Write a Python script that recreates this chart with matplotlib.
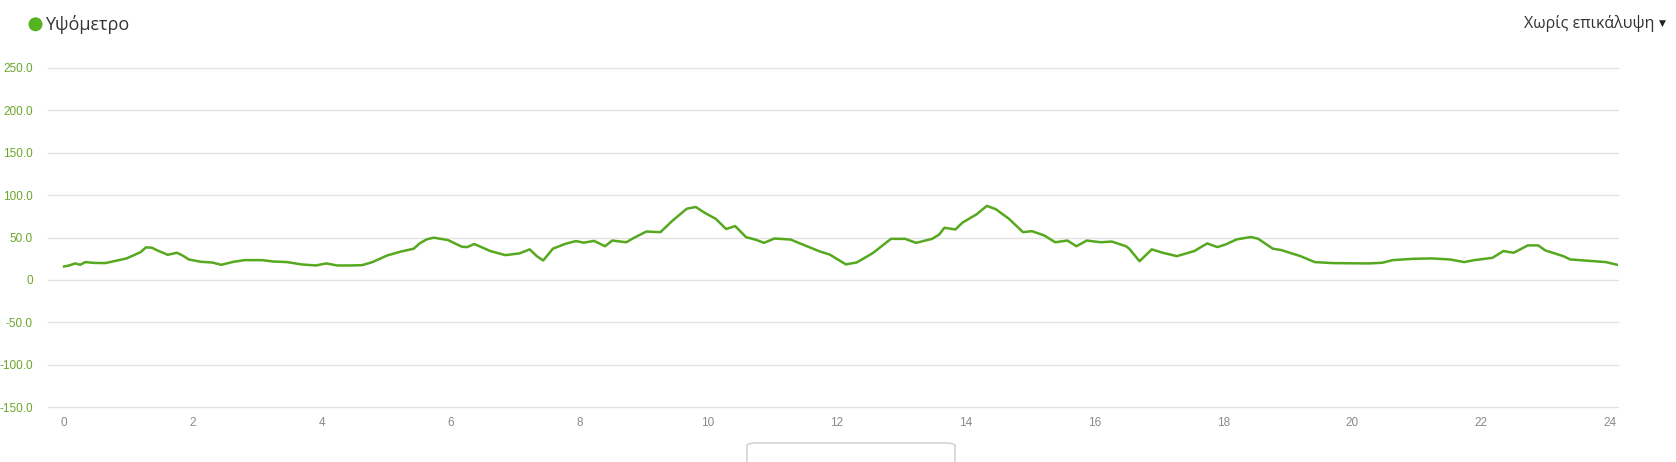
import matplotlib
matplotlib.use("Agg")
import matplotlib.pyplot as plt
from matplotlib.patches import FancyBboxPatch, Ellipse

# ---- data (distance, elevation) ----
distance = [0.00, 0.08, 0.17, 0.25, 0.33, 0.47, 0.64, 0.80, 0.97, 1.08, 1.19, 1.27, 1.36, 1.47,
            1.61, 1.75, 1.83, 1.94, 2.13, 2.30, 2.44, 2.63, 2.80, 3.08, 3.24, 3.46, 3.69, 3.91,
            4.07, 4.24, 4.46, 4.63, 4.79, 5.02, 5.24, 5.43, 5.52, 5.63, 5.74, 5.96, 6.18, 6.26,
            6.37, 6.62, 6.85, 7.07, 7.23, 7.34, 7.44, 7.59, 7.79, 7.95, 8.07, 8.23, 8.40, 8.51,
            8.73, 8.85, 9.04, 9.26, 9.45, 9.67, 9.81, 9.95, 10.12, 10.28, 10.42, 10.59, 10.73,
            10.87, 11.03, 11.28, 11.51, 11.73, 11.89, 12.14, 12.31, 12.56, 12.84, 13.06, 13.23,
            13.48, 13.59, 13.67, 13.84, 13.95, 14.17, 14.33, 14.47, 14.67, 14.89, 15.03, 15.22,
            15.39, 15.58, 15.72, 15.88, 16.10, 16.27, 16.49, 16.54, 16.70, 16.89, 17.06, 17.28,
            17.55, 17.75, 17.91, 18.04, 18.21, 18.43, 18.54, 18.77, 18.90, 19.20, 19.42, 19.70,
            20.25, 20.47, 20.63, 20.96, 21.24, 21.52, 21.74, 21.90, 22.18, 22.35, 22.51, 22.73,
            22.89, 23.00, 23.28, 23.39, 23.61, 23.94, 24.12]
elevation = [15.8, 17.0, 19.4, 17.8, 21.0, 20.0, 19.8, 22.5, 25.3, 29.0, 32.8, 38.3, 38.0, 34.0,
             29.6, 32.0, 29.2, 24.0, 21.3, 20.5, 17.8, 21.3, 23.3, 23.3, 21.7, 21.0, 18.2, 17.0,
             19.4, 17.0, 17.0, 17.4, 21.0, 28.9, 33.6, 36.8, 43.0, 47.8, 49.8, 47.0, 39.0, 38.7,
             42.3, 34.0, 29.2, 31.2, 36.0, 28.0, 22.9, 36.8, 42.7, 45.8, 43.9, 46.0, 39.7, 46.4,
             44.4, 49.6, 57.0, 56.3, 70.0, 84.0, 86.0, 79.0, 72.0, 60.0, 63.5, 50.4, 47.6,
             43.7, 48.8, 47.6, 40.5, 33.7, 29.8, 18.3, 20.6, 31.7, 48.4, 48.4, 43.7,
             48.4, 53.6, 61.5, 59.5, 67.5, 77.4, 87.3, 83.3, 72.2, 56.3, 57.5, 52.4,
             44.4, 46.4, 39.7, 46.4, 44.4, 45.2, 39.7, 36.8, 22.0, 36.0, 32.0, 28.0,
             34.0, 43.0, 38.7, 41.9, 47.8, 50.6, 48.6, 36.8, 35.2, 28.0, 21.0, 19.8,
             19.4, 20.2, 23.3, 24.9, 25.3, 24.1, 21.0, 23.3, 26.0, 34.0, 32.0, 40.7,
             40.7, 34.8, 28.0, 24.1, 22.9, 21.0, 17.8]

x_ticks = [0, 2, 4, 6, 8, 10, 12, 14, 16, 18, 20, 22, 24]
y_ticks = [-150, -100, -50, 0, 50, 100, 150, 200, 250]
y_tick_labels = ["-150.0", "-100.0", "-50.0", "0", "50.0", "100.0", "150.0", "200.0", "250.0"]
series_name = "Υψόμετρο"
menu_label = "Χωρίς επικάλυψη"

W, H = 1676, 462
fig = plt.figure(figsize=(W / 100, H / 100), dpi=100)
fig.patch.set_facecolor("white")

left, right, top, bottom = 48, 1618, 68, 407
ax = fig.add_axes([left / W, 1 - bottom / H, (right - left) / W, (bottom - top) / H])

green = "#56a81e"
ax.plot(distance, elevation, color=green, lw=1.8, solid_joinstyle="round", zorder=3)

ax.set_xlim(-0.25, 24.13)
ax.set_ylim(-150, 250)
ax.set_yticks(y_ticks)
ax.set_yticklabels(y_tick_labels)
ax.set_xticks(x_ticks)
ax.set_xticklabels([str(t) for t in x_ticks])

for s in ax.spines.values():
    s.set_visible(False)
ax.grid(axis="y", color="#e3e3e3", lw=1)
for gl in ax.get_ygridlines():
    gl.set_clip_on(False)
ax.set_axisbelow(True)
ax.tick_params(axis="both", length=0)
ax.tick_params(axis="y", pad=11, labelcolor="#6aa62a", labelsize=8.5)
ax.tick_params(axis="x", pad=7, labelcolor="#8a8a8a", labelsize=8.5)
for lab in ax.get_yticklabels() + ax.get_xticklabels():
    lab.set_fontfamily("Liberation Sans")

# legend / title area
fig.patches.append(Ellipse((35.5 / W, 1 - 24.3 / H), 14 / W, 14 / H, transform=fig.transFigure,
                           facecolor="#56b31f", edgecolor="none"))
fig.text(45 / W, 1 - 24 / H, series_name, color="#333333", fontsize=13, ha="left",
         va="center", family=["Open Sans", "DejaVu Sans"])
fig.text(1654 / W, 1 - 24 / H, menu_label, color="#333333", fontsize=11.5, ha="right",
         va="center", family=["Open Sans", "DejaVu Sans"])
fig.text(1662 / W, 1 - 23.5 / H, "▼", color="#222222", fontsize=6.5, ha="center",
         va="center", family=["DejaVu Sans"])

# partially visible control box at the bottom
box = FancyBboxPatch((747 / W, -20 / H), 208 / W, 19 / H + 20 / H,
                     boxstyle="round,pad=0,rounding_size=0.006",
                     transform=fig.transFigure, facecolor="white", edgecolor="#cccccc", lw=1)
fig.patches.append(box)

fig.savefig("out.png", dpi=100, facecolor="white")
